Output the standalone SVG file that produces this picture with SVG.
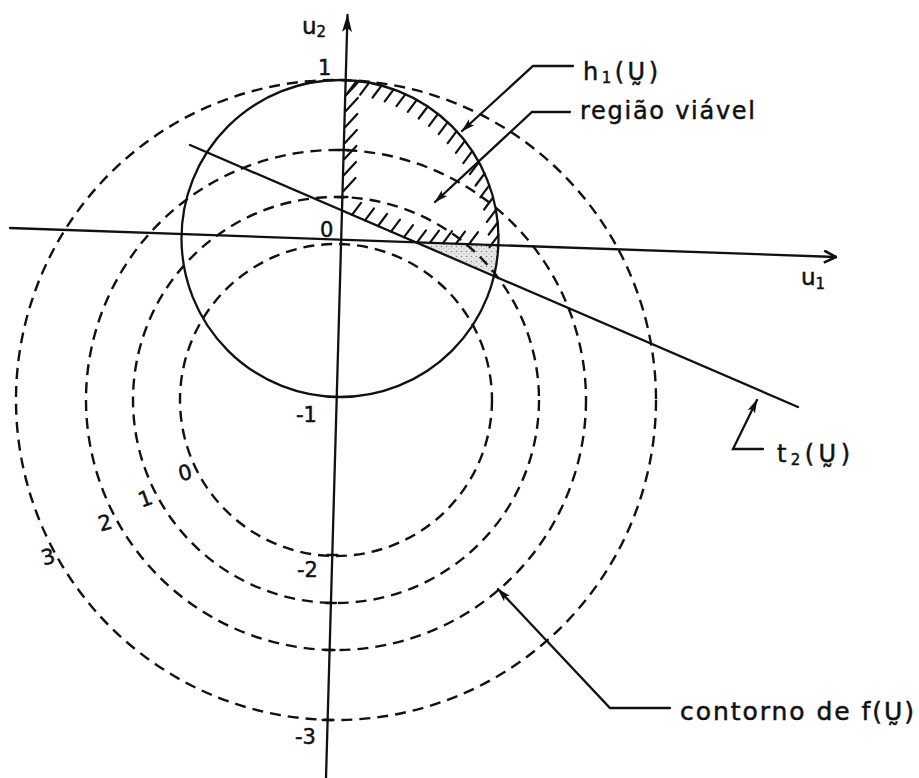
<svg xmlns="http://www.w3.org/2000/svg" width="919" height="778" viewBox="0 0 919 778">
<defs>
<style>
.ln{fill:none;stroke:#111;stroke-width:2.3;stroke-linecap:round}
.dash{fill:none;stroke:#111;stroke-width:2.4;stroke-dasharray:11 7}
.hatch{fill:none;stroke:#111;stroke-width:2.2;stroke-linecap:round}
.lbl{font-family:"DejaVu Sans","Liberation Sans",sans-serif;fill:#111;stroke:#111;stroke-width:0.5}
</style>
<marker id="ah" viewBox="0 0 14 10" refX="13" refY="5" markerWidth="14" markerHeight="10" markerUnits="userSpaceOnUse" orient="auto"><path d="M0,1 L14,5 L0,9 L3,5 Z" fill="#111"/></marker>
<marker id="ahU" viewBox="0 0 18 12" refX="17" refY="6" markerWidth="18" markerHeight="12" markerUnits="userSpaceOnUse" orient="auto"><path d="M0,1 L18,6 L0,11 L4,6 Z" fill="#111"/></marker>
<marker id="chev" viewBox="0 0 14 14" refX="13" refY="7" markerWidth="14" markerHeight="14" markerUnits="userSpaceOnUse" orient="auto"><path d="M1,1 L13,7 L1,13" fill="none" stroke="#111" stroke-width="2.6"/></marker>
<pattern id="stip" width="5" height="5" patternUnits="userSpaceOnUse"><rect width="5" height="5" fill="#e6e6e6"/><circle cx="1.5" cy="1.5" r="0.8" fill="#888"/><circle cx="4" cy="3.8" r="0.6" fill="#aaa"/></pattern>
</defs>
<rect width="919" height="778" fill="#fff"/>

<g id="stipple">
<polygon points="418,243 498,246 496,275" fill="url(#stip)"/>
</g>

<g id="contours">
<circle class="dash" cx="336" cy="400" r="156"/>
<circle class="dash" cx="336" cy="400" r="203"/>
<circle class="dash" cx="336" cy="400" r="250"/>
<circle class="dash" cx="336" cy="400" r="320"/>
</g>

<g id="constraint-h1">
<circle class="ln" cx="340" cy="238.5" r="158.5"/>
</g>

<g id="constraint-t2">
<path class="ln" d="M190,145 L798,407"/>
</g>

<g id="axes">
<path class="ln" d="M10,228 L836,257" marker-end="url(#chev)"/>
<path class="ln" d="M326,778 L347.5,15" marker-end="url(#ahU)"/>
<path class="ln" d="M338.7,150 h10 M337.4,197 h10 M327.3,555 h10 M325.9,603 h10 M324.6,650 h10 M322.6,720 h10"/>
</g>

<g id="feasible-region">
<path class="hatch" d="M356.6,80.9 l-9,12 M369.2,82.7 l-9,12 M381.6,85.5 l-9,12 M393.7,89.4 l-9,12 M405.5,94.2 l-9,12 M416.8,99.9 l-9,12 M427.7,106.5 l-9,12 M438,113.9 l-9,12 M447.7,122.2 l-9,12 M456.7,131.2 l-9,12 M464.9,140.9 l-9,12 M472.3,151.2 l-9,12 M478.9,162.1 l-9,12 M484.6,173.5 l-9,12 M489.3,185.3 l-9,12 M493.1,197.5 l-9,12 M495.9,209.9 l-9,12 M497.7,222.5 l-9,12 M498.5,235.2 l-9,12"/>
<path class="hatch" d="M346.2,95 l12,-13 M345.8,111 l12,-13 M345.3,127 l12,-13 M344.9,143 l12,-13 M344.4,159 l12,-13 M344,175 l12,-13 M343.5,191 l12,-13"/>
<path class="hatch" d="M352,214.8 l9,-12 M365,220.4 l9,-12 M378,226 l9,-12 M391,231.6 l9,-12 M404,237.2 l9,-12 M417,242.4 l9,-12 M430,242.7 l9,-12 M443,243.2 l9,-12 M456,243.6 l9,-12 M469,244.1 l9,-12"/>
</g>

<g id="connectors">
<path class="ln" d="M573,66 L533,66 L462,131" marker-end="url(#ah)"/>
<path class="ln" d="M570,112 L532,112 L435,202" marker-end="url(#ah)"/>
<path class="ln" d="M763,449 L733,449 L757,400" marker-end="url(#ah)"/>
<path class="ln" d="M670,708 L610,708 L498,589" marker-end="url(#ah)"/>
</g>

<g id="labels" class="lbl">
<text x="302" y="34" font-size="23">u<tspan font-size="15" dy="3">2</tspan></text>
<text x="801" y="285" font-size="23">u<tspan font-size="15" dy="4">1</tspan></text>
<text x="318" y="75" font-size="21">1</text>
<text x="320" y="237" font-size="21">0</text>
<text x="296" y="422" font-size="21">-1</text>
<text x="297" y="577" font-size="21">-2</text>
<text x="295" y="744" font-size="21">-3</text>
<text x="185" y="480" font-size="21" text-anchor="middle" transform="rotate(-15 185 472)">0</text>
<text x="145" y="506" font-size="21" text-anchor="middle" transform="rotate(-20 145 498)">1</text>
<text x="105" y="530" font-size="21" text-anchor="middle" transform="rotate(-15 105 522)">2</text>
<text x="48" y="564" font-size="21" text-anchor="middle" transform="rotate(-15 48 556)">3</text>
</g>

<g id="label-h1" class="lbl">
<text x="583" y="80" font-size="24" textLength="75" lengthAdjust="spacing">h<tspan font-size="15" dy="3">1</tspan><tspan dy="-3">(Ṵ)</tspan></text>
</g>
<g id="label-regiao" class="lbl">
<text x="580" y="119" font-size="24" textLength="175" lengthAdjust="spacing">região viável</text>
</g>
<g id="label-t2" class="lbl">
<text x="777" y="462" font-size="24" textLength="73" lengthAdjust="spacing">t<tspan font-size="15" dy="3">2</tspan><tspan dy="-3">(Ṵ)</tspan></text>
</g>
<g id="label-contorno" class="lbl">
<text x="680" y="720" font-size="25" textLength="234" lengthAdjust="spacing">contorno de f(Ṵ)</text>
</g>
</svg>
